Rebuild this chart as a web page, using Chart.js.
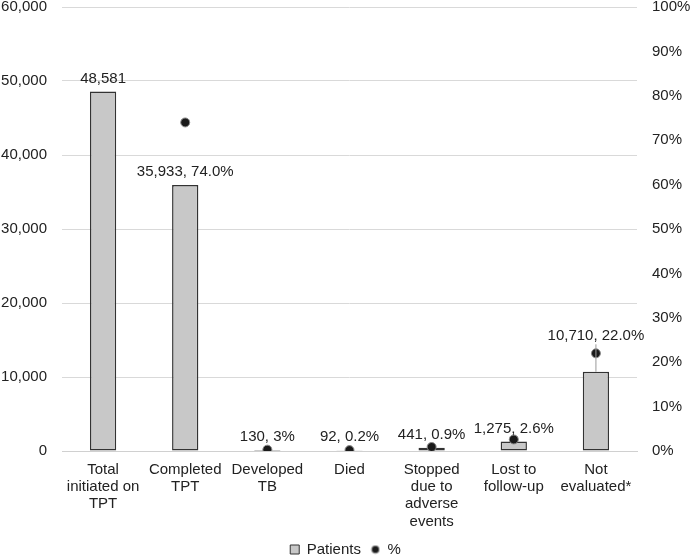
<!DOCTYPE html>
<html>
<head>
<meta charset="utf-8">
<script src="https://cdn.jsdelivr.net/npm/chart.js@4.4.0/dist/chart.umd.min.js"></script>
<style>
  html, body { margin: 0; padding: 0; background: #fff; }
  #wrap { width: 691px; height: 560px; }
</style>
</head>
<body>
<div id="wrap"><canvas id="chart"></canvas></div>
<script>
const categories = [
  ["Total", "initiated on", "TPT"],
  ["Completed", "TPT"],
  ["Developed", "TB"],
  ["Died"],
  ["Stopped", "due to", "adverse", "events"],
  ["Lost to", "follow-up"],
  ["Not", "evaluated*"]
];
const patients = [48581, 35933, 130, 92, 441, 1275, 10710];
const percent = [null, 74.0, 0.3, 0.2, 0.9, 2.6, 22.0];
const percentLabels = ["", "74.0%", "3%", "0.2%", "0.9%", "2.6%", "22.0%"];
const leftTicks = [0, 10000, 20000, 30000, 40000, 50000, 60000];

const FONT = "'Liberation Sans', Arial, sans-serif";
Chart.defaults.font.family = FONT;
Chart.defaults.font.size = 15;
Chart.defaults.color = "#222";

const ctx = document.getElementById("chart").getContext("2d");

// small dot used as the legend marker for the % series
function dotMarker() {
  const cv = document.createElement("canvas");
  cv.width = 10;
  cv.height = 10;
  const g = cv.getContext("2d");
  g.beginPath();
  g.arc(5, 5, 3.8, 0, Math.PI * 2);
  g.fillStyle = "#1a1a1a";
  g.fill();
  g.lineWidth = 1;
  g.strokeStyle = "#8a8a8a";
  g.stroke();
  return cv;
}

const valueLabels = {
  id: "valueLabels",
  afterDatasetsDraw(chart) {
    const c = chart.ctx;
    const bars = chart.getDatasetMeta(0).data;
    const pts = chart.getDatasetMeta(1).data;
    c.save();
    c.font = "15px " + FONT;
    c.fillStyle = "#222";
    c.textAlign = "center";
    c.textBaseline = "alphabetic";
    bars.forEach((bar, i) => {
      let text = patients[i].toLocaleString("en-US");
      if (percentLabels[i]) text += ", " + percentLabels[i];
      let y = bar.y - 9;
      const p = pts[i];
      if (percent[i] !== null && p && p.y < bar.y - 8 && p.y > bar.y - 40) {
        // leader line from bar top up through the point
        c.strokeStyle = "#999";
        c.lineWidth = 1;
        c.beginPath();
        c.moveTo(bar.x, bar.y);
        c.lineTo(p.x, p.y - 9);
        c.stroke();
        y = p.y - 13;
      }
      c.fillText(text, bar.x, y);
    });
    c.restore();
  }
};

const fixPad = (axis) => {
  axis.paddingTop = 7;
};

new Chart(ctx, {
  data: {
    labels: categories,
    datasets: [
      {
        type: "bar",
        label: "Patients",
        data: patients,
        yAxisID: "y",
        backgroundColor: "#c8c8c8",
        borderColor: "#333",
        borderWidth: 1.5,
        borderSkipped: false,
        barPercentage: 0.32,
        categoryPercentage: 1,
        order: 2
      },
      {
        type: "line",
        label: "%",
        data: percent,
        yAxisID: "y1",
        showLine: false,
        pointRadius: 4.5,
        pointHoverRadius: 4.5,
        pointBackgroundColor: "#1a1a1a",
        pointBorderColor: "#8a8a8a",
        pointBorderWidth: 1,
        order: 1
      }
    ]
  },
  options: {
    responsive: true,
    maintainAspectRatio: false,
    animation: false,
    layout: { padding: { left: 0, right: 0, top: 0, bottom: -7 } },
    plugins: {
      legend: {
        position: "bottom",
        labels: {
          usePointStyle: true,
          boxWidth: 9,
          boxHeight: 9,
          padding: 10,
          font: { size: 15 },
          color: "#222",
          generateLabels: (chart) => [
            {
              text: "Patients",
              datasetIndex: 0,
              pointStyle: "rect",
              fillStyle: "#c8c8c8",
              strokeStyle: "#333",
              lineWidth: 1,
              fontColor: "#222"
            },
            {
              text: "%",
              datasetIndex: 1,
              pointStyle: dotMarker(),
              fillStyle: "#1a1a1a",
              strokeStyle: "#8a8a8a",
              lineWidth: 1,
              fontColor: "#222"
            }
          ]
        }
      },
      tooltip: { enabled: false }
    },
    scales: {
      x: {
        afterFit: (axis) => { axis.height -= 8; },
        grid: { display: false, drawTicks: false },
        border: { color: "#d0d0d0", width: 1 },
        ticks: {
          maxRotation: 0,
          autoSkip: false,
          padding: 10,
          font: { size: 15, lineHeight: 1.15 }
        }
      },
      y: {
        position: "left",
        min: 0,
        max: 60000,
        afterBuildTicks: (axis) => { axis.ticks = leftTicks.map(v => ({ value: v })); },
        afterFit: (axis) => { axis.width = 62; fixPad(axis); },
        grid: { color: "#d9d9d9", drawTicks: false },
        border: { display: false },
        ticks: {
          padding: 15,
          callback: (v) => v.toLocaleString("en-US")
        }
      },
      y1: {
        position: "right",
        min: 0,
        max: 100,
        afterFit: (axis) => { axis.width = 54; fixPad(axis); },
        grid: { display: false, drawTicks: false },
        border: { display: false },
        ticks: {
          stepSize: 10,
          padding: 15,
          callback: (v) => v + "%"
        }
      }
    }
  },
  plugins: [valueLabels]
});
</script>
</body>
</html>
